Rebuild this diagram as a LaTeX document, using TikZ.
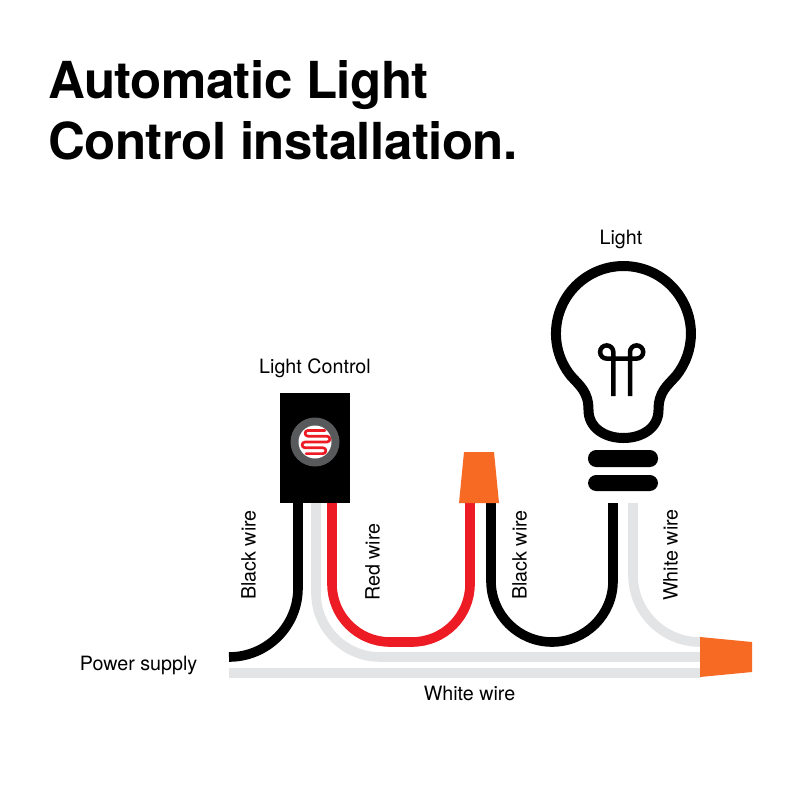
\documentclass[tikz,border=0pt]{standalone}
\usepackage{fontspec}
\setmainfont{TeX Gyre Heros}
\newfontfamily\titlefont[LetterSpace=-1.0]{TeX Gyre Heros}
\definecolor{wiregray}{HTML}{E3E4E5}
\definecolor{wirered}{HTML}{ED1C24}
\definecolor{nutorange}{HTML}{F66A24}
\definecolor{ringgray}{HTML}{58595B}
\tikzset{
  wire/.style={line width=9.6pt,line cap=butt},
  lbl/.style={font=\fontsize{19.7}{20}\selectfont,inner sep=0pt,text=black,anchor=base},
  lblv/.style={font=\fontsize{19.7}{20}\selectfont,inner sep=0pt,text=black,anchor=base,rotate=90},
  titletext/.style={font=\titlefont\fontsize{51}{62}\selectfont\bfseries,inner sep=0pt,anchor=base west},
  nut/.style={fill=nutorange,draw=none},
  pill/.style={fill=black,rounded corners=8.2pt,draw=none}
}
\begin{document}
\begin{tikzpicture}[x=1pt,y=-1pt]
\useasboundingbox (0,0) rectangle (800,800);
\fill[white] (0,0) rectangle (800,800);
% title
\node[titletext] (t1) at (48,98.5) {Automatic Light};
\node[titletext] (t2) at (48,159) {Control installation.};
% wires
\draw[wire,wiregray] (229,673) -- (701,673);
\draw[wire,wiregray] (316,503) -- (316,593) arc[start angle=180,end angle=90,radius=64] -- (701,657);
\draw[wire,wiregray] (633,503) -- (633,575) arc[start angle=180,end angle=90,radius=67] -- (701,642);
\draw[wire,black] (229,657) arc[start angle=90,end angle=0,radius=69] -- (298,503);
\draw[wire,wirered] (332,503) -- (332,584) arc[start angle=180,end angle=90,radius=58] -- (412,642) arc[start angle=90,end angle=0,radius=58] -- (470,502);
\draw[wire,black] (491,502) -- (491,581) arc[start angle=180,end angle=0,radius=61] -- (613,503);
% light control
\fill[black] (280,393) rectangle (350,503);
\fill[ringgray] (315,442) circle[radius=24.5];
\fill[white] (315,442) circle[radius=16.5];
\draw[wirered,line width=2.7pt,line cap=round,line join=round]
  (325,430.4) -- (308,430.4) arc[start angle=270,end angle=90,radius=2.9]
  -- (327,436.2) arc[start angle=-90,end angle=90,radius=2.9]
  -- (305,442) arc[start angle=270,end angle=90,radius=2.9]
  -- (323,447.8) arc[start angle=-90,end angle=90,radius=2.9]
  -- (306,453.6);
% nuts
\fill[nut] (464,452) -- (494,452) -- (499,503) -- (459,503) -- cycle;
\fill[nut] (700,637) -- (752,642) -- (752,672) -- (700,677) -- cycle;
% bulb
\draw[black,line width=10pt,line join=round]
  (588.5,410) .. controls (588.5,392) and (580,386) .. (571,376)
  arc[start angle=141,end angle=399,radius=67.5]
  .. controls (667,386) and (658.5,392) .. (658.5,410)
  .. controls (658.5,428) and (642,438) .. (623.5,438)
  .. controls (605,438) and (588.5,428) .. (588.5,410) -- cycle;
\draw[black,line width=4.5pt]
  (613.3,396) -- (613.3,352) arc[start angle=0,end angle=-270,radius=6.6]
  -- (636.6,358.6) arc[start angle=90,end angle=-180,radius=6.6] -- (630,396);
\fill[pill] (588,450) rectangle (658,467);
\fill[pill] (588,475) rectangle (658,491);
% labels
\node[lbl] (l1) at (621,244.5) {Light};
\node[lbl] (l2) at (315,373) {Light Control};
\node[lbl] (l3) at (138.5,670) {Power supply};
\node[lbl] (l4) at (469.5,700) {White wire};
\node[lblv] (l5) at (255.5,555) {Black wire};
\node[lblv] (l6) at (379.5,562) {Red wire};
\node[lblv] (l7) at (526.5,555) {Black wire};
\node[lblv] (l8) at (677.5,555) {White wire};
\end{tikzpicture}
\end{document}
